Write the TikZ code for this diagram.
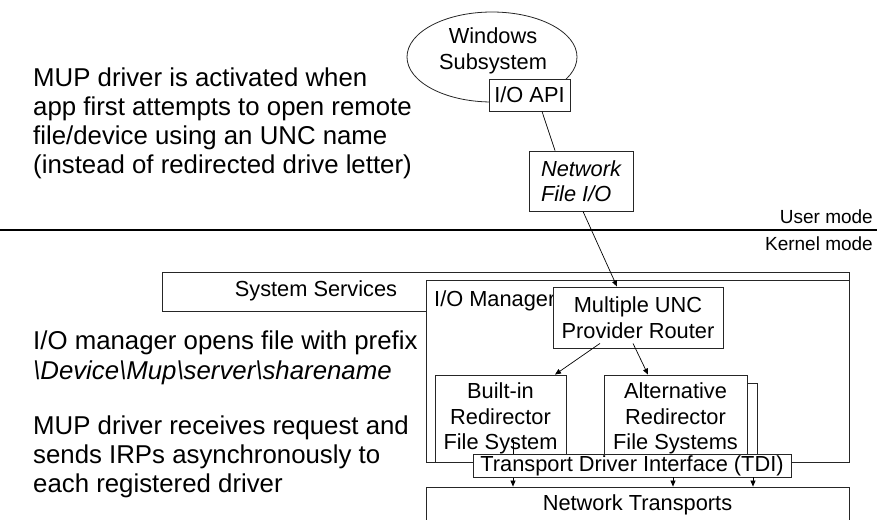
\documentclass[tikz,border=0pt]{standalone}
\usepackage{fontspec}
\setmainfont{Liberation Sans}
\usetikzlibrary{shapes.geometric,arrows.meta}
\newcommand\fsz[2]{\fontsize{#1}{#2}\selectfont}

\begin{document}
\begin{tikzpicture}[x=1pt,y=-1pt,
  box/.style={draw=black!85, line width=0.8pt, fill=white, rectangle, inner sep=0pt,
              align=center, font=\fsz{21.8}{25.8}},
  lbl/.style={inner sep=0pt, font=\fsz{21.8}{25.8}},
  note/.style={inner sep=0pt, align=left, anchor=north west, font=\fsz{25.8}{29.2}},
  mode/.style={inner sep=0pt, anchor=base east, font=\fsz{19}{22}},
  link/.style={draw=black, line width=0.7pt},
  flow/.style={link, -{Triangle[length=6pt,width=5pt]}}]

\path[use as bounding box] (0,0) rectangle (877,519);

% explanatory notes on the left
\node[note] (n1) at (33,67.5) {MUP driver is activated when\\app first attempts to open remote\\file/device using an UNC name\\(instead of redirected drive letter)};
\node[note] (n2) at (33,331) {I/O manager opens file with prefix\\\textit{\textbackslash Device\textbackslash Mup\textbackslash server\textbackslash sharename}};
\node[note] (n3) at (33,415.5) {MUP driver receives request and\\sends IRPs asynchronously to\\each registered driver};

% user mode part
\node[ellipse, draw=black!85, line width=0.8pt, fill=white, minimum width=170,
      minimum height=90, inner sep=0pt] (ws) at (492,57) {};
\node[lbl, align=center] (wsl) at (493,51) {Windows\\Subsystem};
\node[box, minimum width=81, minimum height=32] (api) at (529.5,95) {I/O API};
\node[box, minimum width=104, minimum height=60, align=left,
      font=\fsz{21.8}{25.5}\itshape] (nfio) at (581,181) {Network\\File I/O};

% user / kernel boundary
\coordinate (divl) at (0,230);
\coordinate (divr) at (877,230);
\draw[line width=2.7pt] (divl) -- (divr);
\node[mode] (um) at (873,223) {User mode};
\node[mode] (km) at (873,250) {Kernel mode};

% kernel mode part
\node[box, minimum width=687, minimum height=39] (sys) at (505.5,291.5) {};
\node[lbl] (sysl) at (316,291) {System Services};
\node[box, minimum width=423, minimum height=182] (iom) at (637.5,371) {};
\node[lbl, anchor=base west] (ioml) at (434,306) {I/O Manager};
\node[box, minimum width=170, minimum height=61] (mup) at (638,317.5) {Multiple UNC\\Provider Router};
\node[box, minimum width=131, minimum height=87] (bir) at (500.5,418.5) {Built-in\\Redirector\\File System};
\node[box, minimum width=143, minimum height=79] (altsh) at (685.5,422.5) {};
\node[box, minimum width=143, minimum height=87] (alt) at (675.5,418.5) {Alternative\\Redirector\\File Systems};
\node[box, minimum width=423, minimum height=50] (nt) at (637.5,512) {};
\node[lbl] (ntl) at (637.5,505) {Network Transports};

\draw[flow] ([xshift=12.5pt,yshift=-21.5pt]bir.center) -- ([xshift=-124.5pt]nt.north);
\node[box, minimum width=318, minimum height=23] (tdi) at (632,465.5) {Transport Driver Interface (TDI)};
\draw[flow] ([xshift=41pt]tdi.south) -- ([xshift=35.5pt]nt.north);
\draw[flow] ([xshift=121pt]tdi.south) -- ([xshift=115.5pt]nt.north);

% request path
\draw[link] ([xshift=12.5pt]api.south) -- ([xshift=-26pt]nfio.north);
\draw[flow] ([xshift=2pt]nfio.south) -- ([xshift=-21pt]mup.north);
\draw[flow] ([xshift=-38pt,yshift=5pt]mup.south) -- ([xshift=54.5pt]bir.north);
\draw[flow] ([xshift=-5pt,yshift=5pt]mup.south) -- ([xshift=-27.5pt]alt.north);
\end{tikzpicture}
\end{document}
